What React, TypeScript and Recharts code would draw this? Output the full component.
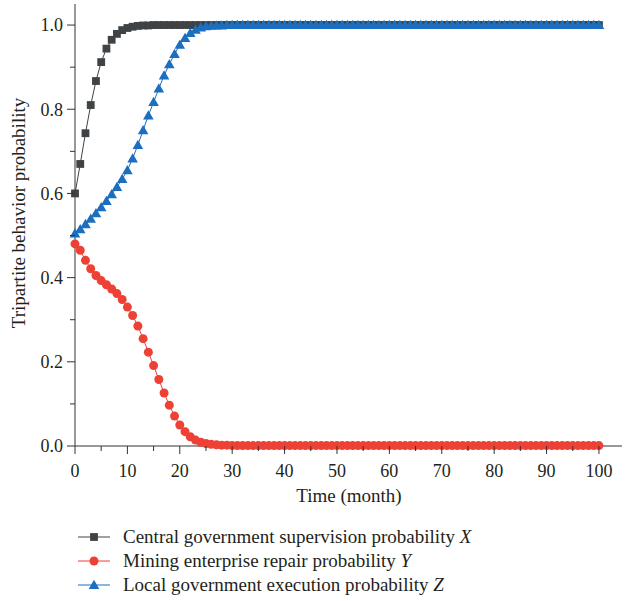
import React from "react";
import { LineChart, Line, XAxis, YAxis, Legend } from "recharts";

const months = [
  0, 1, 2, 3, 4, 5, 6, 7, 8, 9,
  10, 11, 12, 13, 14, 15, 16, 17, 18, 19,
  20, 21, 22, 23, 24, 25, 26, 27, 28, 29,
  30, 31, 32, 33, 34, 35, 36, 37, 38, 39,
  40, 41, 42, 43, 44, 45, 46, 47, 48, 49,
  50, 51, 52, 53, 54, 55, 56, 57, 58, 59,
  60, 61, 62, 63, 64, 65, 66, 67, 68, 69,
  70, 71, 72, 73, 74, 75, 76, 77, 78, 79,
  80, 81, 82, 83, 84, 85, 86, 87, 88, 89,
  90, 91, 92, 93, 94, 95, 96, 97, 98, 99,
  100,
];

const centralX = [
  0.600, 0.670, 0.743, 0.810, 0.867, 0.912, 0.944, 0.965, 0.979, 0.988,
  0.993, 0.996, 0.998, 0.999, 0.999, 1, 1, 1, 1, 1,
  1, 1, 1, 1, 1, 1, 1, 1, 1, 1,
  1, 1, 1, 1, 1, 1, 1, 1, 1, 1,
  1, 1, 1, 1, 1, 1, 1, 1, 1, 1,
  1, 1, 1, 1, 1, 1, 1, 1, 1, 1,
  1, 1, 1, 1, 1, 1, 1, 1, 1, 1,
  1, 1, 1, 1, 1, 1, 1, 1, 1, 1,
  1, 1, 1, 1, 1, 1, 1, 1, 1, 1,
  1, 1, 1, 1, 1, 1, 1, 1, 1, 1,
  1,
];

const miningY = [
  0.480, 0.465, 0.441, 0.421, 0.405, 0.393, 0.383, 0.373, 0.362, 0.348,
  0.330, 0.310, 0.285, 0.255, 0.223, 0.191, 0.158, 0.126, 0.097, 0.071,
  0.050, 0.034, 0.022, 0.014, 0.009, 0.006, 0.004, 0.003, 0.002, 0.002,
  0.001, 0.001, 0.001, 0.001, 0.001, 0.001, 0.001, 0.001, 0.001, 0.001,
  0.001, 0.001, 0.001, 0.001, 0.001, 0.001, 0.001, 0.001, 0.001, 0.001,
  0.001, 0.001, 0.001, 0.001, 0.001, 0.001, 0.001, 0.001, 0.001, 0.001,
  0.001, 0.001, 0.001, 0.001, 0.001, 0.001, 0.001, 0.001, 0.001, 0.001,
  0.001, 0.001, 0.001, 0.001, 0.001, 0.001, 0.001, 0.001, 0.001, 0.001,
  0.001, 0.001, 0.001, 0.001, 0.001, 0.001, 0.001, 0.001, 0.001, 0.001,
  0.001, 0.001, 0.001, 0.001, 0.001, 0.001, 0.001, 0.001, 0.001, 0.001,
  0.001,
];

const localZ = [
  0.505, 0.515, 0.527, 0.540, 0.553, 0.567, 0.582, 0.598, 0.615, 0.634,
  0.655, 0.683, 0.715, 0.750, 0.785, 0.817, 0.849, 0.880, 0.907, 0.931,
  0.953, 0.969, 0.981, 0.989, 0.994, 0.997, 0.998, 0.999, 0.999, 1,
  1, 1, 1, 1, 1, 1, 1, 1, 1, 1,
  1, 1, 1, 1, 1, 1, 1, 1, 1, 1,
  1, 1, 1, 1, 1, 1, 1, 1, 1, 1,
  1, 1, 1, 1, 1, 1, 1, 1, 1, 1,
  1, 1, 1, 1, 1, 1, 1, 1, 1, 1,
  1, 1, 1, 1, 1, 1, 1, 1, 1, 1,
  1, 1, 1, 1, 1, 1, 1, 1, 1, 1,
  1,
];

const xTicks = [0, 5, 10, 15, 20, 25, 30, 35, 40, 45, 50, 55, 60, 65, 70, 75, 80, 85, 90, 95, 100];
const yTicks = [0, 0.1, 0.2, 0.3, 0.4, 0.5, 0.6, 0.7, 0.8, 0.9, 1.0];

const seriesNames = [
  "Central government supervision probability ",
  "Mining enterprise repair probability ",
  "Local government execution probability ",
];
const seriesVars = ["X", "Y", "Z"];

const COLORS = { x: "#3f4345", y: "#ee4136", z: "#1c6ebf" };
const FONT = "'Liberation Serif', 'Times New Roman', serif";
const TEXT = "#231f20";
const AXIS = "#333333";

const data = months.map((t, i) => ({ t, x: centralX[i], y: miningY[i], z: localZ[i] }));

const Square = (props: any) => {
  const { cx, cy, key } = props;
  if (cx == null || cy == null) return null;
  return <rect key={key} x={cx - 3.9} y={cy - 3.9} width={7.8} height={7.8} fill={COLORS.x} />;
};
const Circle = (props: any) => {
  const { cx, cy, key } = props;
  if (cx == null || cy == null) return null;
  return <circle key={key} cx={cx} cy={cy} r={4.5} fill={COLORS.y} />;
};
const Triangle = (props: any) => {
  const { cx, cy, key } = props;
  if (cx == null || cy == null) return null;
  const s = 5.3;
  return (
    <path
      key={key}
      d={`M${cx},${cy - s} L${cx + s},${cy + s * 0.75} L${cx - s},${cy + s * 0.75} Z`}
      fill={COLORS.z}
    />
  );
};

const YTick = (props: any) => {
  const { x, y, payload } = props;
  const v = payload.value;
  const major = Math.round(v * 10) % 2 === 0;
  return (
    <g>
      <line x1={x} x2={x - (major ? 8 : 5)} y1={y} y2={y} stroke={AXIS} strokeWidth={1} />
      {major && (
        <text x={x - 12} y={y} dy="0.35em" textAnchor="end" fontFamily={FONT} fontSize={18} fill={TEXT}>
          {v.toFixed(1)}
        </text>
      )}
    </g>
  );
};

const XTick = (props: any) => {
  const { x, y, payload } = props;
  const v = payload.value;
  const major = v % 10 === 0;
  return (
    <g>
      <line x1={x} x2={x} y1={y} y2={y + (major ? 8 : 5)} stroke={AXIS} strokeWidth={1} />
      {major && (
        <text x={x} y={y + 31} textAnchor="middle" fontFamily={FONT} fontSize={18} fill={TEXT}>
          {v}
        </text>
      )}
    </g>
  );
};

const YLabel = () => (
  <text
    x={18}
    y={213}
    transform="rotate(-90, 18, 213)"
    textAnchor="middle"
    dy="0.35em"
    fontFamily={FONT}
    fontSize={19}
    fill={TEXT}
  >
    Tripartite behavior probability
  </text>
);

const XLabel = () => (
  <text x={349} y={502} textAnchor="middle" fontFamily={FONT} fontSize={19} fill={TEXT}>
    Time (month)
  </text>
);

const markerFor = [Square, Circle, Triangle];
const colorFor = [COLORS.x, COLORS.y, COLORS.z];

const LegendContent = () => (
  <div style={{ fontFamily: FONT, fontSize: 19, color: TEXT }}>
    {seriesNames.map((name, i) => {
      const M = markerFor[i];
      return (
        <div key={name} style={{ display: "flex", alignItems: "center", height: 24 }}>
          <svg width={123} height={24} style={{ display: "block" }}>
            <line x1={78} x2={110} y1={12} y2={12} stroke={colorFor[i]} strokeWidth={1} />
            <M cx={94} cy={12} />
          </svg>
          <span style={{ whiteSpace: "nowrap" }}>
            {name}
            <i>{seriesVars[i]}</i>
          </span>
        </div>
      );
    })}
  </div>
);

export default function App() {
  return (
    <div style={{ position: "absolute", left: 0, top: 0, width: 625, height: 601, background: "#fff" }}>
      <LineChart width={625} height={601} data={data} margin={{ top: 4, right: 3, bottom: 95, left: 0 }}>
        <XAxis
          dataKey="t"
          type="number"
          domain={[0, 104.4]}
          ticks={xTicks}
          interval={0}
          tickSize={0}
          tickMargin={0}
          tickLine={false}
          tick={<XTick />}
          height={60}
          stroke={AXIS}
          label={<XLabel />}
        />
        <YAxis
          type="number"
          domain={[0, 1.05]}
          ticks={yTicks}
          interval={0}
          tickSize={0}
          tickMargin={0}
          tickLine={false}
          tick={<YTick />}
          width={75}
          stroke={AXIS}
          label={<YLabel />}
        />
        <Line dataKey="x" stroke={COLORS.x} strokeWidth={1} dot={Square} activeDot={false} isAnimationActive={false} />
        <Line dataKey="y" stroke={COLORS.y} strokeWidth={1} dot={Circle} activeDot={false} isAnimationActive={false} />
        <Line dataKey="z" stroke={COLORS.z} strokeWidth={1} dot={Triangle} activeDot={false} isAnimationActive={false} />
        <Legend
          layout="vertical"
          align="center"
          verticalAlign="middle"
          content={<LegendContent />}
          wrapperStyle={{ top: 525, left: 0, width: 625 }}
        />
      </LineChart>
    </div>
  );
}
